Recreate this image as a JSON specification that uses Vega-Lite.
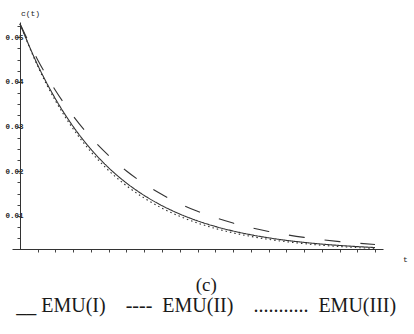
{
  "$schema": "https://vega.github.io/schema/vega-lite/v6.json",
  "autosize": {"type": "none"},
  "width": 371,
  "height": 227,
  "padding": {"left": 12, "top": 22, "right": 31, "bottom": 85},
  "background": "white",
  "config": {"view": {"stroke": null}},
  "title": {
    "text": "(c)",
    "subtitle": "__ EMU(I)\u00a0\u00a0\u00a0\u00a0----\u00a0\u00a0EMU(II)\u00a0\u00a0\u00a0\u00a0...........\u00a0\u00a0EMU(III)",
    "orient": "bottom",
    "anchor": "middle",
    "frame": "bounds",
    "offset": 13,
    "font": "Liberation Serif",
    "fontSize": 19,
    "fontWeight": "normal",
    "color": "#1a1a1a",
    "subtitleFont": "Liberation Serif",
    "subtitleFontSize": 20,
    "subtitleColor": "#1a1a1a",
    "subtitlePadding": 1
  },
  "data": {
    "values": [
      {"t": 0, "c": 0.053, "s": "EMU(I)"},
      {"t": 1, "c": 0.04375, "s": "EMU(I)"},
      {"t": 2, "c": 0.03619, "s": "EMU(I)"},
      {"t": 3, "c": 0.02999, "s": "EMU(I)"},
      {"t": 4, "c": 0.02491, "s": "EMU(I)"},
      {"t": 5, "c": 0.02076, "s": "EMU(I)"},
      {"t": 6, "c": 0.01736, "s": "EMU(I)"},
      {"t": 7, "c": 0.01458, "s": "EMU(I)"},
      {"t": 8, "c": 0.0123, "s": "EMU(I)"},
      {"t": 9, "c": 0.01043, "s": "EMU(I)"},
      {"t": 10, "c": 0.0089, "s": "EMU(I)"},
      {"t": 11, "c": 0.00765, "s": "EMU(I)"},
      {"t": 12, "c": 0.00663, "s": "EMU(I)"},
      {"t": 13, "c": 0.00579, "s": "EMU(I)"},
      {"t": 14, "c": 0.0051, "s": "EMU(I)"},
      {"t": 15, "c": 0.00454, "s": "EMU(I)"},
      {"t": 16, "c": 0.00408, "s": "EMU(I)"},
      {"t": 17, "c": 0.0037, "s": "EMU(I)"},
      {"t": 18, "c": 0.00339, "s": "EMU(I)"},
      {"t": 19, "c": 0.00314, "s": "EMU(I)"},
      {"t": 20, "c": 0.00293, "s": "EMU(I)"},
      {"t": 0, "c": 0.053, "s": "EMU(II)"},
      {"t": 1, "c": 0.0449, "s": "EMU(II)"},
      {"t": 2, "c": 0.03808, "s": "EMU(II)"},
      {"t": 3, "c": 0.03235, "s": "EMU(II)"},
      {"t": 4, "c": 0.02753, "s": "EMU(II)"},
      {"t": 5, "c": 0.02348, "s": "EMU(II)"},
      {"t": 6, "c": 0.02006, "s": "EMU(II)"},
      {"t": 7, "c": 0.01719, "s": "EMU(II)"},
      {"t": 8, "c": 0.01478, "s": "EMU(II)"},
      {"t": 9, "c": 0.01275, "s": "EMU(II)"},
      {"t": 10, "c": 0.01104, "s": "EMU(II)"},
      {"t": 11, "c": 0.00961, "s": "EMU(II)"},
      {"t": 12, "c": 0.0084, "s": "EMU(II)"},
      {"t": 13, "c": 0.00738, "s": "EMU(II)"},
      {"t": 14, "c": 0.00653, "s": "EMU(II)"},
      {"t": 15, "c": 0.00581, "s": "EMU(II)"},
      {"t": 16, "c": 0.0052, "s": "EMU(II)"},
      {"t": 17, "c": 0.00469, "s": "EMU(II)"},
      {"t": 18, "c": 0.00426, "s": "EMU(II)"},
      {"t": 19, "c": 0.00391, "s": "EMU(II)"},
      {"t": 20, "c": 0.0036, "s": "EMU(II)"},
      {"t": 0, "c": 0.053, "s": "EMU(III)"},
      {"t": 1, "c": 0.04349, "s": "EMU(III)"},
      {"t": 2, "c": 0.03575, "s": "EMU(III)"},
      {"t": 3, "c": 0.02945, "s": "EMU(III)"},
      {"t": 4, "c": 0.02433, "s": "EMU(III)"},
      {"t": 5, "c": 0.02014, "s": "EMU(III)"},
      {"t": 6, "c": 0.01675, "s": "EMU(III)"},
      {"t": 7, "c": 0.01399, "s": "EMU(III)"},
      {"t": 8, "c": 0.01174, "s": "EMU(III)"},
      {"t": 9, "c": 0.00991, "s": "EMU(III)"},
      {"t": 10, "c": 0.00842, "s": "EMU(III)"},
      {"t": 11, "c": 0.0072, "s": "EMU(III)"},
      {"t": 12, "c": 0.00622, "s": "EMU(III)"},
      {"t": 13, "c": 0.00542, "s": "EMU(III)"},
      {"t": 14, "c": 0.00476, "s": "EMU(III)"},
      {"t": 15, "c": 0.00423, "s": "EMU(III)"},
      {"t": 16, "c": 0.0038, "s": "EMU(III)"},
      {"t": 17, "c": 0.00344, "s": "EMU(III)"},
      {"t": 18, "c": 0.00315, "s": "EMU(III)"},
      {"t": 19, "c": 0.00292, "s": "EMU(III)"},
      {"t": 20, "c": 0.00273, "s": "EMU(III)"}
    ]
  },
  "mark": {"type": "line", "interpolate": "monotone", "strokeWidth": 1.1, "color": "#333"},
  "encoding": {
    "x": {
      "field": "t",
      "type": "quantitative",
      "scale": {"domain": [-0.45, 20.45], "nice": false, "zero": false},
      "axis": {
        "title": "t",
        "titleX": 393,
        "titleY": 10,
        "titleAlign": "center",
        "titleBaseline": "middle",
        "titleFont": "Liberation Mono",
        "titleFontSize": 8,
        "titleFontWeight": "normal",
        "titleColor": "#222",
        "values": [1, 2, 3, 4, 5, 6, 7, 8, 9, 10, 11, 12, 13, 14, 15, 16, 17, 18, 19, 20],
        "labels": false,
        "grid": false,
        "tickSize": 3,
        "tickColor": "#444",
        "domainColor": "#333",
        "domainWidth": 1
      }
    },
    "y": {
      "field": "c",
      "type": "quantitative",
      "scale": {"domain": [0.0026, 0.0534], "nice": false, "zero": false},
      "axis": {
        "title": "c(t)",
        "titleAngle": 0,
        "titleX": 10,
        "titleY": -9,
        "titleAlign": "center",
        "titleBaseline": "middle",
        "titleFont": "Liberation Mono",
        "titleFontSize": 8,
        "titleFontWeight": "normal",
        "titleColor": "#222",
        "offset": -8,
        "grid": false,
        "values": [0.005, 0.0075, 0.01, 0.0125, 0.015, 0.0175, 0.02, 0.0225, 0.025, 0.0275, 0.03, 0.0325, 0.035, 0.0375, 0.04, 0.0425, 0.045, 0.0475, 0.05, 0.0525],
        "labelExpr": "abs(datum.value*100 - round(datum.value*100)) < 0.001 ? format(datum.value, '.2f') : ''",
        "labelFont": "Liberation Mono",
        "labelFontSize": 7.5,
        "labelFontWeight": "bold",
        "labelColor": "#222",
        "labelPadding": -6,
        "labelOverlap": false,
        "labelFlush": false,
        "tickSize": 3,
        "tickColor": "#444",
        "domainColor": "#333",
        "domainWidth": 1
      }
    },
    "strokeDash": {
      "field": "s",
      "type": "nominal",
      "scale": {"domain": ["EMU(I)", "EMU(II)", "EMU(III)"], "range": [[1, 0], [16, 20], [1.5, 3]]},
      "legend": null
    }
  }
}
